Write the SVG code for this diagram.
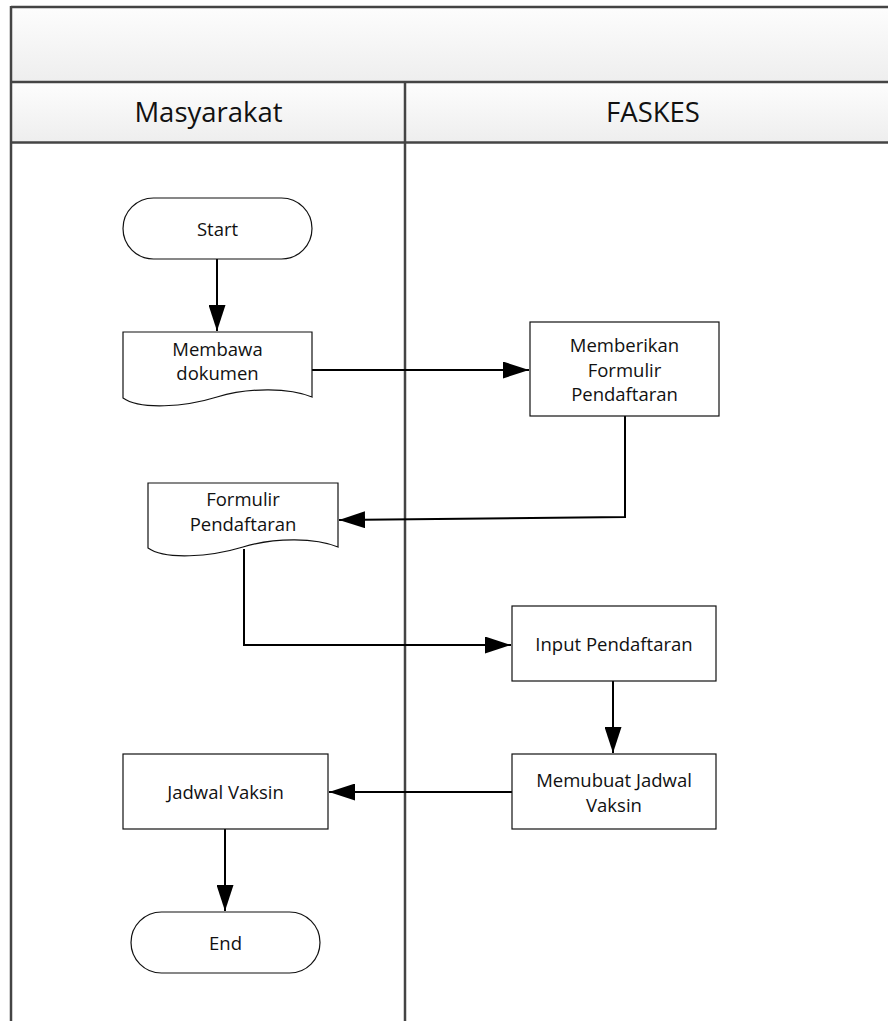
<svg xmlns="http://www.w3.org/2000/svg" width="888" height="1021" viewBox="0 0 888 1021">
<defs>
<linearGradient id="hdr" x1="0" y1="0" x2="0" y2="1">
<stop offset="0" stop-color="#fdfdfd"/>
<stop offset="1" stop-color="#eeeeee"/>
</linearGradient>
<marker id="arr" markerUnits="userSpaceOnUse" markerWidth="26" markerHeight="17" refX="26" refY="8.5" orient="auto">
<path d="M0,0 L26,8.5 L0,17 Z" fill="#000"/>
</marker>
</defs>
<style>
.shape{fill:#fff;stroke:#111;stroke-width:1.2}
.lbl{font-family:"Open Sans","Liberation Sans",sans-serif;font-size:18.5px;fill:#111;text-anchor:middle}
.lane{font-family:"Open Sans","Liberation Sans",sans-serif;font-size:27.5px;fill:#111;text-anchor:middle}
.conn{fill:none;stroke:#000;stroke-width:2;marker-end:url(#arr)}
.pool{stroke:#444;stroke-width:2.5;fill:none}
</style>
<rect width="888" height="1021" fill="#fff"/>
<g id="pool">
<rect x="11" y="7" width="900" height="75" fill="url(#hdr)"/>
<rect x="11" y="82" width="900" height="60" fill="url(#hdr)"/>
<line class="pool" x1="11" y1="7" x2="900" y2="7" stroke-width="2"/>
<line class="pool" x1="11" y1="82" x2="900" y2="82"/>
<line class="pool" x1="11" y1="142.5" x2="900" y2="142.5" stroke="#666" stroke-width="2.5"/>
<line class="pool" x1="11" y1="6" x2="11" y2="1021" stroke-width="3"/>
<line class="pool" x1="405" y1="82" x2="405" y2="1021" stroke-width="2.8"/>
</g>
<g id="lane-masyarakat"><text class="lane" x="208.5" y="121.5">Masyarakat</text></g>
<g id="lane-faskes"><text class="lane" x="653" y="121.5">FASKES</text></g>
<g id="connectors">
<path class="conn" d="M217,259 V331"/>
<path class="conn" d="M312,370 H529"/>
<path class="conn" d="M625,416 V517 L339,520"/>
<path class="conn" d="M244,549 V645 H511"/>
<path class="conn" d="M613,681 V753"/>
<path class="conn" d="M512,792 H329"/>
<path class="conn" d="M225,829 V911"/>
</g>
<g id="start">
<rect class="shape" x="123" y="198" width="189" height="61" rx="30.5"/>
<text class="lbl" x="217.5" y="236">Start</text>
</g>
<g id="membawa-dokumen">
<path class="shape" d="M123,332 H312 V397 C290,388 250,387 217,397 C185,407 140,410 123,398 Z"/>
<text class="lbl" x="217.5" y="356">Membawa</text>
<text class="lbl" x="217.5" y="380">dokumen</text>
</g>
<g id="memberikan-formulir">
<rect class="shape" x="530" y="322" width="189" height="94"/>
<text class="lbl" x="624.5" y="352">Memberikan</text>
<text class="lbl" x="624.5" y="377">Formulir</text>
<text class="lbl" x="624.5" y="401">Pendaftaran</text>
</g>
<g id="formulir-pendaftaran">
<path class="shape" d="M148,483 H338 V547 C316,538 276,537 243,547 C210,557 165,560 148,548 Z"/>
<text class="lbl" x="243" y="506">Formulir</text>
<text class="lbl" x="243" y="530.5">Pendaftaran</text>
</g>
<g id="input-pendaftaran">
<rect class="shape" x="512" y="606" width="204" height="75"/>
<text class="lbl" x="614" y="651">Input Pendaftaran</text>
</g>
<g id="memubuat-jadwal">
<rect class="shape" x="512" y="754" width="204" height="75"/>
<text class="lbl" x="614" y="787">Memubuat Jadwal</text>
<text class="lbl" x="614" y="812">Vaksin</text>
</g>
<g id="jadwal-vaksin">
<rect class="shape" x="123" y="754" width="205" height="75"/>
<text class="lbl" x="225.5" y="799">Jadwal Vaksin</text>
</g>
<g id="end">
<rect class="shape" x="131" y="912" width="189" height="61" rx="30.5"/>
<text class="lbl" x="225.5" y="950">End</text>
</g>
</svg>
